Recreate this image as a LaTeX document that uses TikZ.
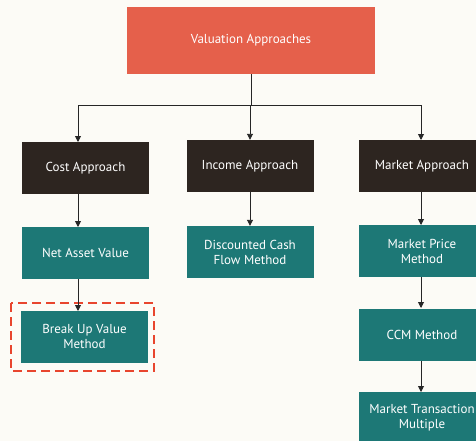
\documentclass[tikz,border=0pt]{standalone}
\usepackage{fontspec}
\setmainfont{PT Sans}
\usetikzlibrary{arrows.meta}
\definecolor{topred}{HTML}{E5604B}
\definecolor{darkbox}{HTML}{2D2520}
\definecolor{tealbox}{HTML}{1D7876}
\definecolor{dashred}{HTML}{E8452E}
\definecolor{paper}{HTML}{FCFBF6}
\tikzset{
  box/.style={draw=none, minimum width=127pt, minimum height=52pt, text=white, align=center, font=\fontsize{13}{15}\selectfont, inner sep=0pt},
  topbox/.style={box, fill=topred, minimum width=248pt, minimum height=67pt},
  appbox/.style={box, fill=darkbox},
  methbox/.style={box, fill=tealbox},
  conn/.style={draw=black!85, line width=0.9pt},
  arr/.style={conn, -{Triangle[length=6pt,width=6pt]}},
  hl/.style={draw=dashred, line width=2.6pt, dash pattern=on 9pt off 5pt}
}
\begin{document}
\begin{tikzpicture}[x=1pt,y=-1pt]
\useasboundingbox (0,0) rectangle (476,441);
\fill[paper] (0,0) rectangle (476,441);
\node[topbox] (top) at (251,40.5) {Valuation Approaches};
\node[appbox] (cost) at (85.5,168) {Cost Approach};
\node[appbox] (income) at (250,166) {Income Approach};
\node[appbox] (market) at (422,166) {Market Approach};
\node[methbox] (nav) at (85.5,253) {Net Asset Value};
\node[methbox] (dcf) at (250,252) {Discounted Cash\\Flow Method};
\node[methbox] (mpm) at (422,251) {Market Price\\Method};
\node[methbox] (buv) at (84.5,336.5) {Break Up Value\\Method};
\node[methbox] (ccm) at (422,334.5) {CCM Method};
\node[methbox] (mtm) at (422,418) {Market Transaction\\Multiple};
\coordinate (j) at (251,105);
\draw[hl] (11,303) rectangle (154,371);
\draw[conn] (top.south) -- (j);
\draw[arr] (j) -| (78,142);
\draw[arr] (j) -| (income.north);
\draw[arr] (j) -| (421,140);
\draw[arr] (78,194) -- (78,227);
\draw[arr] (income.south) -- (dcf.north);
\draw[arr] (421,192) -- (421,225);
\draw[arr] (78,279) -- (78,311);
\draw[arr] (421,277) -- (421,308);
\draw[arr] (421,361) -- (421,392);
\end{tikzpicture}
\end{document}
